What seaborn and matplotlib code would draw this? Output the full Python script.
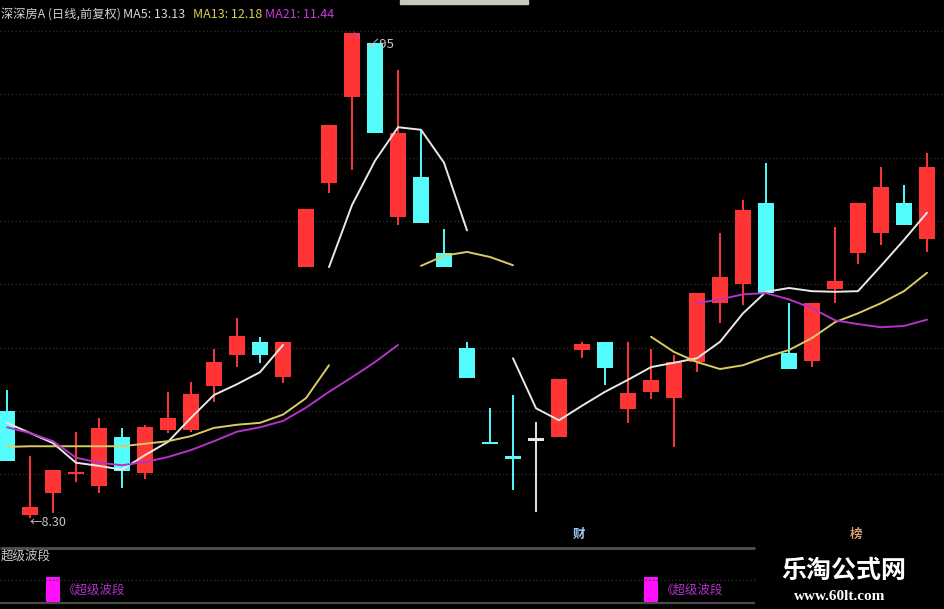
import numpy as np
import pandas as pd
import matplotlib
matplotlib.use("Agg")
import matplotlib.pyplot as plt
from matplotlib.patches import Rectangle
import seaborn as sns

sns.set_theme(style="dark")
plt.rcParams['font.family'] = ['Noto Sans CJK SC', 'DejaVu Sans']
plt.rcParams['axes.unicode_minus'] = False

nan = np.nan

# ---- data (daily candles) ----
opens = [10.00, 8.35, 8.70, 9.00, 8.81, 9.59, 9.02, 9.70, 9.70, 10.39, 10.88, 11.09, 10.53,
         12.27, 13.60, 14.96, 15.81, 13.06, 13.69, 12.49, 10.99, 9.51, 9.29, 9.53, 9.59,
         10.96, 11.09, 10.03, 10.30, 10.20, 10.77, 11.70, 12.00, 13.28, 10.91, 10.79, 11.92,
         12.49, 12.81, 13.28, 12.71]
highs = [10.33, 9.29, 9.07, 9.67, 9.89, 9.73, 9.78, 10.30, 10.45, 10.98, 11.47, 11.17, 11.09,
         13.19, 14.52, 15.97, 15.81, 15.38, 14.44, 12.87, 11.09, 10.04, 10.25, 9.82, 10.50,
         11.09, 11.09, 11.09, 10.98, 10.88, 11.86, 12.81, 13.33, 13.92, 11.70, 11.70, 12.90,
         13.28, 13.85, 13.57, 14.07]
lows = [9.21, 8.30, 8.39, 8.88, 8.70, 8.78, 8.92, 9.65, 9.67, 10.14, 10.69, 10.76, 10.44,
        12.27, 13.44, 13.80, 14.39, 12.94, 12.97, 12.27, 10.52, 9.48, 8.75, 8.40, 9.59,
        10.83, 10.41, 9.81, 10.19, 9.43, 10.61, 11.39, 11.67, 11.86, 10.66, 10.69, 11.70,
        12.32, 12.62, 12.94, 12.51]
closes = [9.21, 8.48, 9.07, 9.03, 9.73, 9.05, 9.74, 9.89, 10.27, 10.77, 11.18, 10.88, 11.09,
          13.19, 14.52, 15.97, 14.39, 14.39, 12.97, 12.27, 10.52, 9.48, 9.24, 9.53, 10.50,
          11.06, 10.68, 10.28, 10.49, 10.77, 11.86, 12.11, 13.17, 11.86, 10.66, 11.70, 12.05,
          13.28, 13.54, 12.94, 13.85]

ma5 = [9.81, 9.65, 9.49, 9.18, 9.13, 9.07, 9.30, 9.51, 9.89, 10.25, 10.42, 10.61, 11.04,
       nan, 12.27, 13.25, 13.95, 14.48, 14.44, 13.92, 12.85, nan,
       10.83, 10.04, 9.85, 10.08, 10.30, 10.49, 10.69, 10.76, 10.83, 11.09, 11.54, 11.88,
       11.94, 11.89, 11.88, 11.89, 12.29, 12.70, 13.13]
ma13 = [9.43, 9.44, 9.44, 9.44, 9.44, 9.44, 9.48, 9.52, 9.60, 9.73, 9.78, 9.81, 9.94, 10.20,
        10.72, nan, nan, nan, 12.29, 12.45, 12.51, 12.43, 12.30, nan, nan, nan, nan, nan,
        11.17, 10.93, 10.77, 10.66, 10.72, 10.85, 10.96, 11.15, 11.40, 11.54, 11.70, 11.89, 12.18]
ma21 = [9.74, 9.65, 9.52, 9.26, 9.18, 9.14, 9.19, 9.27, 9.38, 9.52, 9.67, 9.74, 9.84, 10.05,
        10.30, 10.53, 10.77, 11.04] + [nan] * 12 + \
       [11.70, 11.76, 11.84, 11.86, 11.76, 11.62, 11.43, 11.37, 11.32, 11.34, 11.44]

grid_levels = [9, 10, 11, 12, 13, 14, 15, 16]
signal_idx = [2, 28]
signal_label = "《超级波段"
title_name = "深深房A (日线,前复权)"
ma_labels = ["MA5: 13.13", "MA13: 12.18", "MA21: 11.44"]

# ---- figure ----
H = 609.0
fig = plt.figure(figsize=(9.45, 6.09), dpi=100, facecolor='black')
ax = fig.add_axes([0, 64 / H, 1, 545 / H])
ax.set_facecolor('black')
x = np.arange(len(opens))
ax.set_xlim(-7 / 23, 938 / 23)
ax.set_ylim(7.88, 16.49)

for g in grid_levels:
    ax.axhline(g, color='#303030', lw=0.9, ls=(0, (1, 2)), zorder=0)

o = np.array(opens); c = np.array(closes)
up_col, dn_col, flat_col = '#FF3535', '#55FCFC', '#E6E6E6'
cols = [up_col if cc > oo else (dn_col if cc < oo else flat_col) for oo, cc in zip(o, c)]
ax.vlines(x, lows, highs, colors=cols, lw=1.4, zorder=2)
bottoms = np.minimum(o, c)
heights = np.maximum(np.abs(c - o), 0.035)
ax.bar(x, heights, bottom=bottoms, width=0.7, color=cols, linewidth=0, zorder=3)

rows = []
for name, vals in [("MA5", ma5), ("MA13", ma13), ("MA21", ma21)]:
    seg = 0
    for i, v in enumerate(vals):
        if np.isnan(v):
            seg += 1
            continue
        rows.append(dict(idx=i, value=v, ma=name, seg=f"{name}_{seg}"))
df = pd.DataFrame(rows)
pal = {"MA5": "#E8E8E8", "MA13": "#DCCB62", "MA21": "#B533C8"}
sns.lineplot(data=df, x='idx', y='value', hue='ma', units='seg', estimator=None,
             palette=pal, lw=1.4, legend=False, ax=ax, zorder=4, sort=False)

ax.set_xticks([]); ax.set_yticks([])
ax.set_xlabel(''); ax.set_ylabel('')
for s in ax.spines.values():
    s.set_visible(False)

# annotations
ax.text(0.97, lows[1] - 0.065, "←8.30", va='center', ha='left', color='#C8C8C8', fontsize=9, zorder=6)
ax.text(15.65, highs[16] - 0.02, "↙95", va='center', ha='left', color='#C8C8C8', fontsize=9.5, zorder=6)
ax.text(15.0, highs[15] - 0.05, "↘", va='center', ha='left', color='#D040E0', fontsize=7, zorder=6)
ax.text(24.85, 8.04, "财", va='center', ha='center', color='#9EC8F0', fontsize=9, fontweight='bold')
ax.text(36.9, 8.04, "榜", va='center', ha='center', color='#D8A070', fontsize=9, fontweight='bold')

# bottom indicator panel
ax2 = fig.add_axes([0, 0, 1, 62 / H])
ax2.set_facecolor('black')
ax2.set_xlim(-7 / 23, 938 / 23)
ax2.set_ylim(0, 62)
xr = (755 - 7) / 23
ax2.hlines(61, -0.3, xr, color='#505050', lw=2)
ax2.hlines(29, -0.3, xr, color='#333333', lw=0.9, ls=(0, (1, 2)))
ax2.hlines(6, -0.3, xr, color='#4a4a4a', lw=1.6)
ax2.bar(signal_idx, 26, bottom=6, width=0.65, color='#FF10FF', linewidth=0)
for si in signal_idx:
    ax2.text(si + 0.42, 19, signal_label, va='center', ha='left', color='#B030C8', fontsize=9)
ax2.text(-0.28, 53, "超级波段", va='center', ha='left', color='#C8C8C8', fontsize=9)
ax2.set_xticks([]); ax2.set_yticks([])
for s in ax2.spines.values():
    s.set_visible(False)

# title line
ty = 1 - 14 / H
fig.text(1 / 945, ty, title_name, color='#D0D0D0', fontsize=8.8, va='center', ha='left')
fig.text(123 / 945, ty, ma_labels[0], color='#D8D8D8', fontsize=9, va='center', ha='left')
fig.text(193 / 945, ty, ma_labels[1], color='#D8D050', fontsize=9, va='center', ha='left')
fig.text(265 / 945, ty, ma_labels[2], color='#C838D8', fontsize=9, va='center', ha='left')
fig.patches.append(Rectangle((400 / 945, 1 - 4 / H), 128 / 945, 4 / H,
                             transform=fig.transFigure, color='#C8C8C0', zorder=5))

# watermark
fig.text(844 / 945, 1 - 571 / H, "乐淘公式网", color='white', fontsize=18, fontweight='bold',
         ha='center', va='center')
fig.text(840 / 945, 1 - 597 / H, "www.60lt.com", color='white', fontsize=11, fontweight='bold',
         family=['Liberation Serif', 'DejaVu Serif'], ha='center', va='center')

fig.savefig("out.png", dpi=100, facecolor='black')
